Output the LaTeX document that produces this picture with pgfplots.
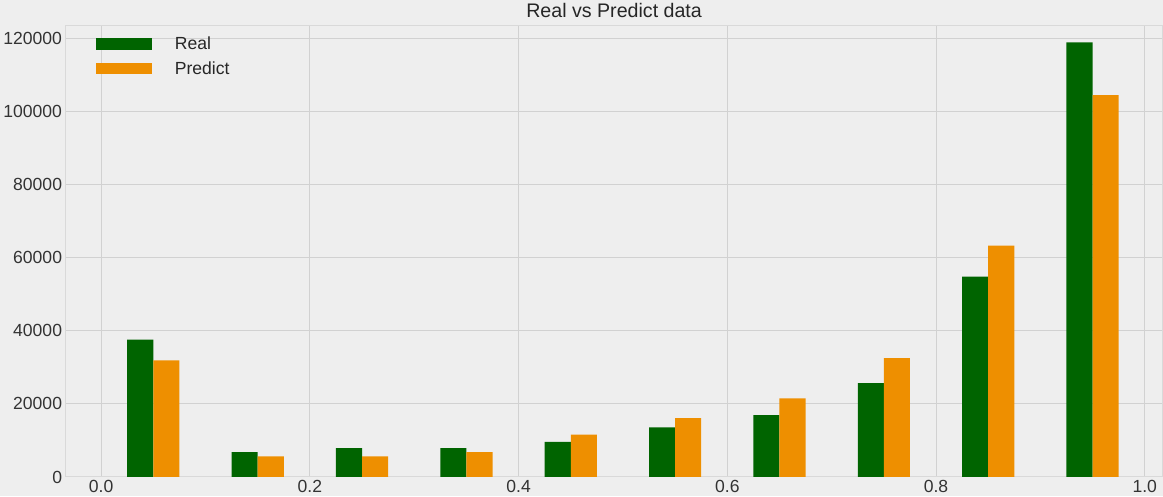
\documentclass[border=0pt]{standalone}
\usepackage{pgfplots}
\pgfplotsset{compat=1.18}
\usepackage{fontspec}
\setmainfont{Liberation Sans}
\usetikzlibrary{backgrounds}
\definecolor{bg}{HTML}{EEEEEE}
\definecolor{gr}{HTML}{006400}
\definecolor{org}{HTML}{EE8F00}
\begin{document}
\begin{tikzpicture}[background rectangle/.style={fill=bg}, show background rectangle, inner frame sep=0pt]
\begin{axis}[
  at={(0,0)},
  width=1062pt, height=437pt, scale only axis,
  xmin=-0.034, xmax=1.017, ymin=0, ymax=123500,
  axis background/.style={fill=bg},
  axis line style={draw=black!15, line width=1pt},
  grid=major, grid style={black!18, line width=1pt},
  major tick length=0pt,
  xtick={0,0.2,0.4,0.6,0.8,1.0},
  ytick={0,20000,40000,60000,80000,100000,120000},
  scaled ticks=false,
  /pgf/number format/assume math mode=true,
  yticklabel style={/pgf/number format/.cd, fixed, 1000 sep={}},
  xticklabel style={/pgf/number format/.cd, fixed, fixed zerofill, precision=1},
  tick label style={font=\fontsize{17}{20}\selectfont, text=black!80},
  title={Real vs Predict data}, title style={font=\fontsize{19}{22}\selectfont, text=black!85, yshift=-2pt},
  legend style={at={(0.025,0.985)}, anchor=north west, draw=none, fill=none, font=\fontsize{17}{20}\selectfont, text=black!85, row sep=6pt},
  legend image code/.code={\fill[#1] (0cm,-0.2cm) rectangle (1.9cm,0.2cm);},
  legend cell align=left,
]
\addplot[ybar, bar width=0.025, bar shift=0, fill=gr, draw=none] coordinates {
(0.0375,37600)(0.1375,6800)(0.2375,7900)(0.3375,7900)(0.4375,9600)(0.5375,13600)(0.6375,16900)(0.7375,25700)(0.8375,54800)(0.9375,118900)};
\addplot[ybar, bar width=0.025, bar shift=0, fill=org, draw=none] coordinates {
(0.0625,31900)(0.1625,5600)(0.2625,5600)(0.3625,6800)(0.4625,11600)(0.5625,16100)(0.6625,21500)(0.7625,32500)(0.8625,63300)(0.9625,104500)};
\legend{\hspace{0.7cm}Real, \hspace{0.7cm}Predict}
\end{axis}
\end{tikzpicture}
\end{document}
